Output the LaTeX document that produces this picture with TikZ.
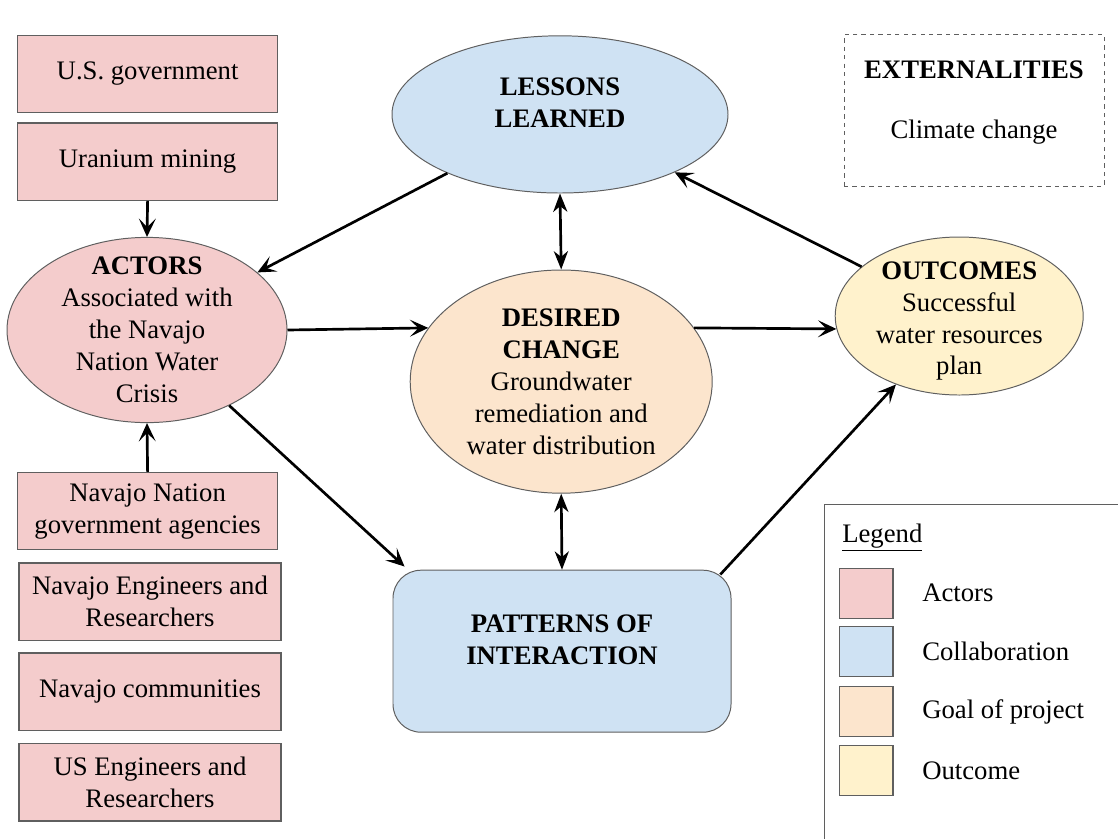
\documentclass[tikz,border=0pt]{standalone}
\usepackage{fontspec}
\setmainfont{Liberation Serif}
\usepackage{xcolor}
\usetikzlibrary{arrows.meta,positioning,calc,shapes.geometric}
\definecolor{actorpink}{HTML}{F4CCCC}
\definecolor{collabblue}{HTML}{CFE2F3}
\definecolor{goalpeach}{HTML}{FCE5CD}
\definecolor{outyellow}{HTML}{FFF2CC}
\definecolor{edgegray}{HTML}{5F5F5F}

\begin{document}
\begin{tikzpicture}[
  every node/.style={font=\fontsize{19}{22.7}\selectfont},
  actorbox/.style={draw=edgegray,line width=0.9pt,fill=actorpink,minimum width=6.5cm,minimum height=1.93cm,align=center,inner sep=2pt},
  bubble/.style={ellipse,draw=edgegray,line width=0.7pt,align=center,inner sep=-10pt},
  collabbox/.style={draw=edgegray,line width=0.7pt,fill=collabblue,rounded corners=0.7cm,minimum width=8.45cm,minimum height=4.05cm,align=center},
  extbox/.style={draw=edgegray,dashed,line width=0.7pt,minimum width=6.5cm,minimum height=3.78cm,align=center},
  swatch/.style={draw=edgegray,line width=0.9pt,minimum width=1.33cm,minimum height=1.25cm,inner sep=0pt},
  arr/.style={-{Stealth[length=13pt,width=12pt,inset=6pt]},line width=1.9pt},
  darr/.style={{Stealth[length=13pt,width=10pt,inset=4pt]}-{Stealth[length=13pt,width=10pt,inset=4pt]},line width=1.9pt}
]
\useasboundingbox (0,0) rectangle (27.95,-20.975);

% actors column
\node[actorbox] (usgov) at (3.69,-1.85) {U.S. government};
\node[actorbox] (uranium) at (3.69,-4.04) {Uranium mining};
\node[bubble,fill=actorpink,minimum width=7.0cm,minimum height=4.63cm] (actors) at (3.675,-8.25)
  {\textbf{ACTORS}\\Associated with\\the Navajo\\Nation Water\\Crisis};
\node[actorbox] (govag) at (3.69,-12.78) {Navajo Nation\\government agencies};
\node[actorbox,minimum width=6.55cm] (naveng) at (3.75,-15.04) {Navajo Engineers and\\Researchers};
\node[actorbox,minimum width=6.55cm] (navcomm) at (3.75,-17.29) {Navajo communities};
\node[actorbox,minimum width=6.55cm] (useng) at (3.75,-19.56) {US Engineers and\\Researchers};

% middle
\node[bubble,fill=collabblue,minimum width=8.4cm,minimum height=3.93cm] (lessons) at (14.0,-2.86)
  {\textbf{LESSONS}\\\textbf{LEARNED}\\[-0.2cm]\mbox{}};
\node[bubble,fill=goalpeach,minimum width=7.55cm,minimum height=5.58cm] (desired) at (14.03,-9.54)
  {\textbf{DESIRED}\\\textbf{CHANGE}\\Groundwater\\remediation and\\water distribution};
\node[collabbox] (patterns) at (14.05,-16.28) {\textbf{PATTERNS OF}\\\textbf{INTERACTION}\\[-0.2cm]\mbox{}};
\node[bubble,fill=outyellow,minimum width=6.2cm,minimum height=3.95cm] (outcomes) at (23.98,-7.9)
  {\mbox{}\\[-0.1cm]\textbf{OUTCOMES}\\Successful\\water resources\\plan};
\node[extbox] (extern) at (24.35,-2.76) {\textbf{EXTERNALITIES}\\[0.7cm]Climate change\\[-0.25cm]\mbox{}};

% connectors
\draw[arr] (uranium.south) -- (actors.north);
\draw[arr] (govag.north) -- (actors.south);
\draw[arr] (lessons) -- (actors);
\draw[arr] (outcomes) -- (lessons);
\draw[darr] (lessons.south) -- (desired.north);
\draw[arr] (actors.east) -- (desired.158);
\draw[arr] (desired.22) -- (outcomes.186);
\draw[arr] (actors) -- ($(patterns.north west)+(0.3,0.08)$);
\draw[darr] (desired.south) -- (patterns.north);
\draw[arr] ($(patterns.north east)+(-0.28,-0.12)$) -- (outcomes);

% legend
\draw[edgegray,line width=0.7pt] (27.95,-12.6) -- (20.6,-12.6) -- (20.6,-20.975);
\node[anchor=west,inner sep=0pt] (legtitle) at (21.05,-13.45) {\underline{Legend}};
\node[swatch,fill=actorpink] (swactor) at (21.66,-14.83) {};
\node[swatch,fill=collabblue] (swcollab) at (21.66,-16.28) {};
\node[swatch,fill=goalpeach] (swgoal) at (21.66,-17.79) {};
\node[swatch,fill=outyellow] (swout) at (21.66,-19.26) {};
\node[anchor=west,inner sep=0pt] (legactor) at (23.05,-14.83) {Actors};
\node[anchor=west,inner sep=0pt] (legcollab) at (23.05,-16.28) {Collaboration};
\node[anchor=west,inner sep=0pt] (leggoal) at (23.05,-17.79) {Goal of project};
\node[anchor=west,inner sep=0pt] (legout) at (23.05,-19.26) {Outcome};
\end{tikzpicture}
\end{document}
